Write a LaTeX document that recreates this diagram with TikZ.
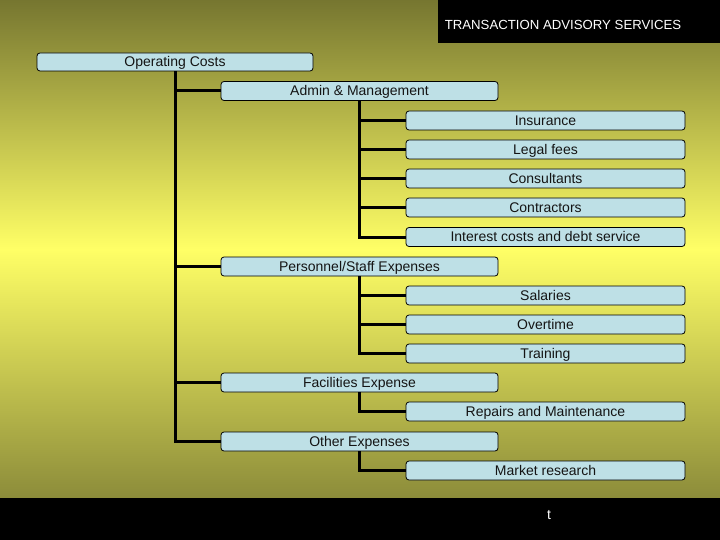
\documentclass[tikz,border=0pt]{standalone}
\usepackage{fontspec}
\setmainfont{Liberation Sans}
\definecolor{olivetop}{RGB}{118,118,48}
\definecolor{olivebot}{RGB}{140,140,58}
\definecolor{brightyel}{RGB}{255,255,102}
\definecolor{boxfill}{RGB}{190,224,230}
\definecolor{boxtext}{RGB}{20,20,20}
\tikzset{
  box/.style={draw=black, line width=0.8pt, fill=boxfill, rounded corners=3pt,
    minimum height=19pt, inner sep=0pt, text=boxtext,
    text height=11pt, text depth=1.6pt,
    font=\fontsize{14}{16}\selectfont},
  topbox/.style={box, minimum width=276pt, minimum height=18pt},
  midbox/.style={box, minimum width=277pt},
  leafbox/.style={box, minimum width=279pt},
  conn/.style={draw=black, line width=3pt}
}
\begin{document}
\begin{tikzpicture}[x=1pt,y=-1pt]
\useasboundingbox (0,0) rectangle (720,540);
% background gradient
\shade[top color=olivetop, bottom color=olivebot, middle color=brightyel] (0,0) rectangle (720,498);
\fill[black] (0,498) rectangle (720,540);
\fill[black] (438,0) rectangle (720,43);
\node[text=white, font=\fontsize{13.2}{15}\selectfont] (title) at (563,24.5) {TRANSACTION ADVISORY SERVICES};
\node[text=white, font=\fontsize{14}{16}\selectfont] (foot) at (549,515) {t};
% nodes
\node[topbox] (oc) at (175,62) {Operating Costs};
\node[midbox] (admin) at (359.5,91) {Admin \& Management};
\node[leafbox] (ins) at (545.5,120.5) {Insurance};
\node[leafbox] (legal) at (545.5,149.5) {Legal fees};
\node[leafbox] (cons) at (545.5,178.5) {Consultants};
\node[leafbox] (contr) at (545.5,207.5) {Contractors};
\node[leafbox] (interest) at (545.5,237) {Interest costs and debt service};
\node[midbox] (pers) at (359.5,266.5) {Personnel/Staff Expenses};
\node[leafbox] (sal) at (545.5,295.5) {Salaries};
\node[leafbox] (over) at (545.5,324.5) {Overtime};
\node[leafbox] (train) at (545.5,353.5) {Training};
\node[midbox] (fac) at (359.5,382.5) {Facilities Expense};
\node[leafbox] (rep) at (545.5,411.5) {Repairs and Maintenance};
\node[midbox] (other) at (359.5,441.5) {Other Expenses};
\node[leafbox] (market) at (545.5,470.5) {Market research};
% connectors
\draw[conn] (oc.south) |- (other.west);
\foreach \n in {admin,pers,fac} \draw[conn] (oc.south |- \n.west) -- (\n.west);
\draw[conn] (admin.south) |- (interest.west);
\foreach \n in {ins,legal,cons,contr} \draw[conn] (admin.south |- \n.west) -- (\n.west);
\draw[conn] (pers.south) |- (train.west);
\foreach \n in {sal,over} \draw[conn] (pers.south |- \n.west) -- (\n.west);
\draw[conn] (fac.south) |- (rep.west);
\draw[conn] (other.south) |- (market.west);
\end{tikzpicture}
\end{document}
